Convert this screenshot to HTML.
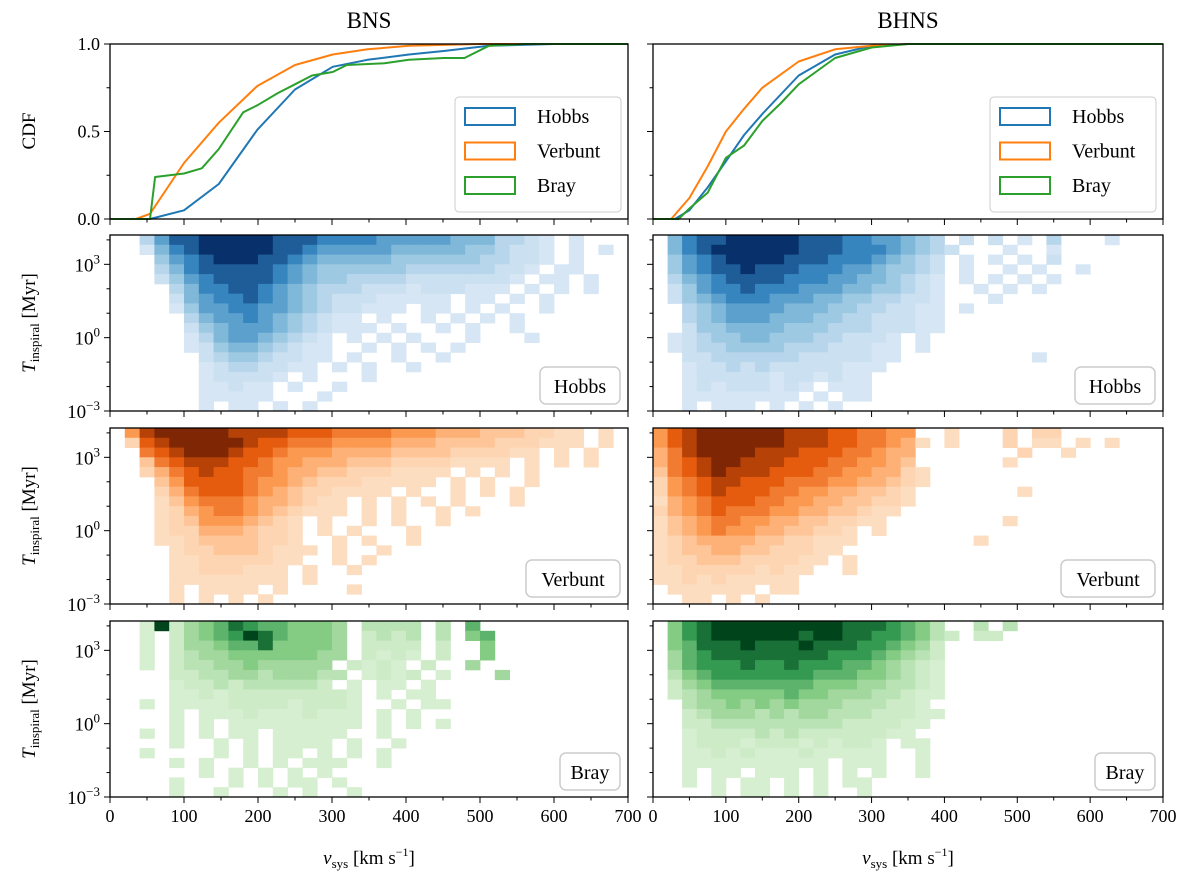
<!DOCTYPE html>
<html><head><meta charset="utf-8"><style>
body{margin:0;background:#fff}
svg{display:block;font-family:"Liberation Serif","DejaVu Serif",serif}
</style></head><body>
<svg id="fig" width="1200" height="883" viewBox="0 0 1200 883" xmlns="http://www.w3.org/2000/svg"></svg>
<script>
// ---------- data ----------
const cdfBnsHobbsV=[0,54,100,147,199,250,301,348,404,451,512,600,700];
const cdfBnsHobbsY=[0,0,0.05,0.2,0.51,0.74,0.87,0.91,0.94,0.96,0.99,1,1];
const cdfBnsVerbV=[0,35,54,100,147,199,250,301,348,404,500,700];
const cdfBnsVerbY=[0,0,0.03,0.32,0.55,0.76,0.88,0.94,0.97,0.99,1,1];
const cdfBnsBrayV=[0,54,61,100,124,147,180,199,227,250,273,301,320,371,404,451,479,512,560,700];
const cdfBnsBrayY=[0,0,0.24,0.26,0.29,0.40,0.61,0.65,0.72,0.77,0.82,0.84,0.88,0.89,0.91,0.92,0.92,0.99,1,1];
const cdfBhnsHobbsV=[0,30,50,75,100,125,150,200,250,300,350,700];
const cdfBhnsHobbsY=[0,0,0.05,0.18,0.33,0.48,0.6,0.82,0.94,0.99,1,1];
const cdfBhnsVerbV=[0,25,50,75,100,125,150,200,250,300,350,700];
const cdfBhnsVerbY=[0,0,0.12,0.3,0.5,0.63,0.75,0.9,0.97,0.99,1,1];
const cdfBhnsBrayV=[0,35,50,75,100,125,150,175,200,250,300,350,700];
const cdfBhnsBrayY=[0,0,0.06,0.15,0.35,0.42,0.56,0.66,0.77,0.92,0.98,1,1];

// heatmap grids: 20 km/s columns from 0, 0.4-decade rows from 10^4.2 down to 10^-3; digit = density level
const bnsHobbs=["..3688999998887777666665553321.1...","..1578999998876666655555443221.1.1","...467899988765555544444433221.1","...35788888765444444333333221.11","...2467888876544333322222221.11.1","....35778876543332221222111.1.1.1","....2567787654322211111.11.1.1","....1466776654322111.11.1.1..1",".....356676543211.1..1.1.1.1",".....2456665432111.1..1.1..1",".....1356654321.1.1.1...1...1",".....1245543211..1.1.1.1","......234432211.1..1..1","......12332211.1.1..1","......122221.1...1","......11211.1..1","......11111...1","......1.11.1.1"];
const bnsVerb=[".5899999888877766665554443332211.1",".2789999987766655554443333222111.1","..678999877655544443333222211.1.1","..3678887765544433322221111.1.1.1","..246787766544332221111.1.1.1","...3577776554322211111.1.1..1","...2467776543221111.1..1.1.1","...1356665443211.1.1.1.1...1","...1245665432111.1.1..1.1","...1235554321.1..1.1..1","...1224443221.1.1...1","...1123333221..1.1..1","....1223332111.1..1","....112222211..1.1","....11222111.1..1","....11111111.1","....1.1111.1....1","....1.1.1.1"];
const bnsBray=["..19245687665554.3333.3.6","..1.245679865554.2323.3.56","..1.244566855554.2222.2..5","..1.234455555544.2121.2..5","..1.23344544444.2121.2..4","....223344344433.1212.1...4","....12232333332.1.11.1","....1121222222221.1.11","..1.1111222212221..1.11","....1.11121112111.1.1","....1.1.111111111.1.1.1","..1.1.1.11.11111..1","....1..1.1.1111.1..1","..1....1.1.11.1.1.1","....1.1..1.1.111..1","......1.1.1.1.1","....1...1.1.11.1","....1..1...1.1..1"];
const bhnsHobbs=[".5788999998887766543.2.2.1.3...1",".57899999988877765432...1..1",".4678999988877765432.1.1.1.2",".4678898887776654432.1..1.1..1",".3567888877766554321.1.1.1.1",".2467787776665544321..1.1.1",".2456777666554433221...1","..345666655544332211.1","..345666555443322211","..244555544433322211",".1234455444332221.1",".1233444433322211.1","..223333332222211.........1","..12232322222111","..1222221221211","..121222121.111","..11111111.1.11","..1.111.1.1.1"];
const bhnsVerb=["578999999888776655..1...2.22","5789999998887766541.1...2.11.1.1","468999988877766544.......2..1","467899888777665543......1","3678988877766554421","2567887776665544321","256787776655443321.......1","145677766554433221","24567666554433211","1345665544332211........1","13456554433221.1","12344443322111........1","1233443322211","122333222211.1","11222221211..1","1121211111",".111111.11","..11.1.1"];
const bhnsBray=[".5789999999998887653..3.3",".57899999989988776532.22",".5688898889888776542",".4678888888877765432",".4677787787776654321",".3567777777666554321",".2456666666555443321",".2345555565544433211","..34454545444333221","..234443434433322211","..22333333333222211","..1222232322222211.","..12221222121221.11","..11212111211111..1","..1111111111.111..1","..1.11.111.1.1.1..1","..1.1.11.1.1.11","....1.11.1.1..1"];

const xTicks=[0,100,200,300,400,500,600,700];
const yLogTicks=[3,0,-3];
const cdfTicks=[0,0.5,1];
const models=["Hobbs","Verbunt","Bray"];

// ---------- helpers ----------
const NS="http://www.w3.org/2000/svg";
const svg=document.getElementById('fig');
function mk(tag,attrs,parent){const e=document.createElementNS(NS,tag);for(const k in attrs)e.setAttribute(k,attrs[k]);(parent||svg).appendChild(e);return e;}
const cols={Hobbs:['#d6e6f4','#84bcdb','#3282be','#08306b'],Verbunt:['#fdddc0','#fd9d55','#e5590a','#7f2704'],Bray:['#d6efd0','#8ace88','#2f974e','#00441b']};
const lineCol={Hobbs:'#1f77b4',Verbunt:'#ff7f0e',Bray:'#2ca02c'};
function hex(h){return [1,3,5].map(i=>parseInt(h.substr(i,2),16));}
function cmap(name,lv){const c=cols[name];const t=Math.pow((lv-1)/8,1.5)*3;const i=Math.min(2,Math.floor(t));const f=t-i;const a=hex(c[i]),b=hex(c[i+1]);return 'rgb('+a.map((v,k)=>Math.round(v+(b[k]-v)*f)).join(',')+')';}

const colsX=[{x0:110,x1:628},{x0:653,x1:1163}];
const rowsY=[{y0:44,y1:219},{y0:235,y1:411},{y0:428,y1:604},{y0:621,y1:797}];
function xs(c,v){return c.x0+(c.x1-c.x0)*v/700;}
function ysLog(r,l){return r.y1-(r.y1-r.y0)*(l+3)/7.2;}
function ysCdf(r,v){return r.y1-(r.y1-r.y0)*v;}

let t=mk('text',{x:369,y:28,'font-size':23,'text-anchor':'middle'});t.textContent='BNS';

t=mk('text',{x:908,y:28,'font-size':23,'text-anchor':'middle'});t.textContent='BHNS';


const grids=[[bnsHobbs,bnsVerb,bnsBray],[bhnsHobbs,bhnsVerb,bhnsBray]];
const cdfs=[[[cdfBnsHobbsV,cdfBnsHobbsY],[cdfBnsVerbV,cdfBnsVerbY],[cdfBnsBrayV,cdfBnsBrayY]],[[cdfBhnsHobbsV,cdfBhnsHobbsY],[cdfBhnsVerbV,cdfBhnsVerbY],[cdfBhnsBrayV,cdfBhnsBrayY]]];

for(let ci=0;ci<2;ci++){
  const c=colsX[ci];
  const r=rowsY[0];
  const g=mk('g',{});
  
  
  cdfs[ci].forEach((s,mi)=>{
    const pts=s[0].map((v,i)=>xs(c,v).toFixed(1)+','+ysCdf(r,s[1][i]).toFixed(1)).join(' ');
    const pl=mk('polyline',{points:pts,fill:'none',stroke:lineCol[models[mi]],'stroke-width':2,'stroke-linejoin':'round'},g);
    
    
  });
  const lx=c.x1-173,ly=97;
  const lg=mk('g',{},g);
  
  
  mk('rect',{x:lx,y:ly,width:166,height:115,rx:4,fill:'#fff','fill-opacity':0.85,stroke:'#ccc','stroke-width':1},lg);
  models.forEach((m,mi)=>{
    const yy=ly+19+mi*34.5;
    const hr=mk('rect',{x:lx+10,y:yy-8,width:50,height:17,fill:'none',stroke:lineCol[m],'stroke-width':2},lg);
    
    
    const tt=mk('text',{x:lx+82,y:yy+7,'font-size':20},lg);tt.textContent=m;
    
    
  });
  mk('rect',{x:c.x0,y:r.y0,width:c.x1-c.x0,height:r.y1-r.y0,fill:'none',stroke:'#000','stroke-width':1.3},g);
  [0,0.25,0.5,0.75,1].forEach(v=>{const y=ysCdf(r,v);const major=cdfTicks.includes(v);mk('line',{x1:c.x0,x2:c.x0-(major?6:3.5),y1:y,y2:y,stroke:'#000','stroke-width':1},g);});
  if(ci===0){
    cdfTicks.forEach(v=>{const tx=mk('text',{x:c.x0-10,y:ysCdf(r,v)+6,'font-size':18,'text-anchor':'end'},g);tx.textContent=v.toFixed(1);
      });
    const yl=mk('text',{x:0,y:0,'font-size':19,'text-anchor':'middle',transform:'translate(35,131) rotate(-90)'},g);yl.textContent='CDF';
    
  }
  drawXTicks(c,r,g,false);

  for(let mi=0;mi<3;mi++){
    const rr=rowsY[mi+1];const m=models[mi];
    const hg=mk('g',{});
    
    
    const grid=grids[ci][mi];
    grid.forEach((row,ri)=>{
      const lTop=4.2-ri*0.4,lBot=lTop-0.4;
      for(let k=0;k<35;k++){
        const ch=row[k];if(!ch||ch==='.')continue;
        const lv=+ch;
        const xa=xs(c,k*20),xb=xs(c,(k+1)*20);
        const ya=ysLog(rr,lTop),yb=ysLog(rr,lBot);
        const cell=mk('rect',{x:xa.toFixed(1),y:ya.toFixed(1),width:(xb-xa+0.4).toFixed(1),height:(yb-ya+0.4).toFixed(1),fill:cmap(m,lv)},hg);
        
        
      }
    });
    mk('rect',{x:c.x0,y:rr.y0,width:c.x1-c.x0,height:rr.y1-rr.y0,fill:'none',stroke:'#000','stroke-width':1.3},hg);
    for(let l=-3;l<=4;l++){const y=ysLog(rr,l);const major=yLogTicks.includes(l);mk('line',{x1:c.x0,x2:c.x0-(major?6:3.5),y1:y,y2:y,stroke:'#000','stroke-width':1},hg);}
    if(ci===0){
      yLogTicks.forEach(l=>{const tx=mk('text',{x:c.x0-10,y:ysLog(rr,l)+7,'font-size':19,'text-anchor':'end'},hg);
        tx.innerHTML='10<tspan dy="-8" font-size="13">'+(l<0?'−'+(-l):l)+'</tspan>';
        });
      const cy=(rr.y0+rr.y1)/2;
      const yl=mk('text',{x:0,y:0,'font-size':19,'text-anchor':'middle',transform:'translate(35,'+cy+') rotate(-90)'},hg);
      yl.innerHTML='<tspan font-style="italic">T</tspan><tspan font-size="13" dy="4">inspiral</tspan><tspan dy="-4"> [Myr]</tspan>';
      
    }
    const w=m==='Verbunt'?94:(m==='Hobbs'?80:60);
    const bx=c.x1-8-w,by=rr.y1-44;
    const lb=mk('g',{},hg);
    
    
    mk('rect',{x:bx,y:by,width:w,height:37,rx:6,fill:'#fff','fill-opacity':0.85,stroke:'#ccc','stroke-width':1.5},lb);
    const lt=mk('text',{x:bx+w/2,y:by+26,'font-size':20,'text-anchor':'middle'},lb);lt.textContent=m;
    drawXTicks(c,rr,hg,mi===2);
  }
  const xl=mk('text',{x:(c.x0+c.x1)/2,y:864,'font-size':19,'text-anchor':'middle'});
  xl.innerHTML='<tspan font-style="italic">v</tspan><tspan font-size="13" dy="4">sys</tspan><tspan dy="-4"> [km s</tspan><tspan font-size="12" dy="-8">−1</tspan><tspan dy="8">]</tspan>';
  
}
function drawXTicks(c,r,g,labels){
  for(let v=0;v<=700;v+=50){const x=xs(c,v);const major=v%100===0;mk('line',{x1:x,x2:x,y1:r.y1,y2:r.y1+(major?6:3.5),stroke:'#000','stroke-width':1},g);}
  if(labels){xTicks.forEach(v=>{const tx=mk('text',{x:xs(c,v),y:r.y1+25,'font-size':18,'text-anchor':'middle'},g);tx.textContent=v;
    });}
}
</script>
</body></html>
